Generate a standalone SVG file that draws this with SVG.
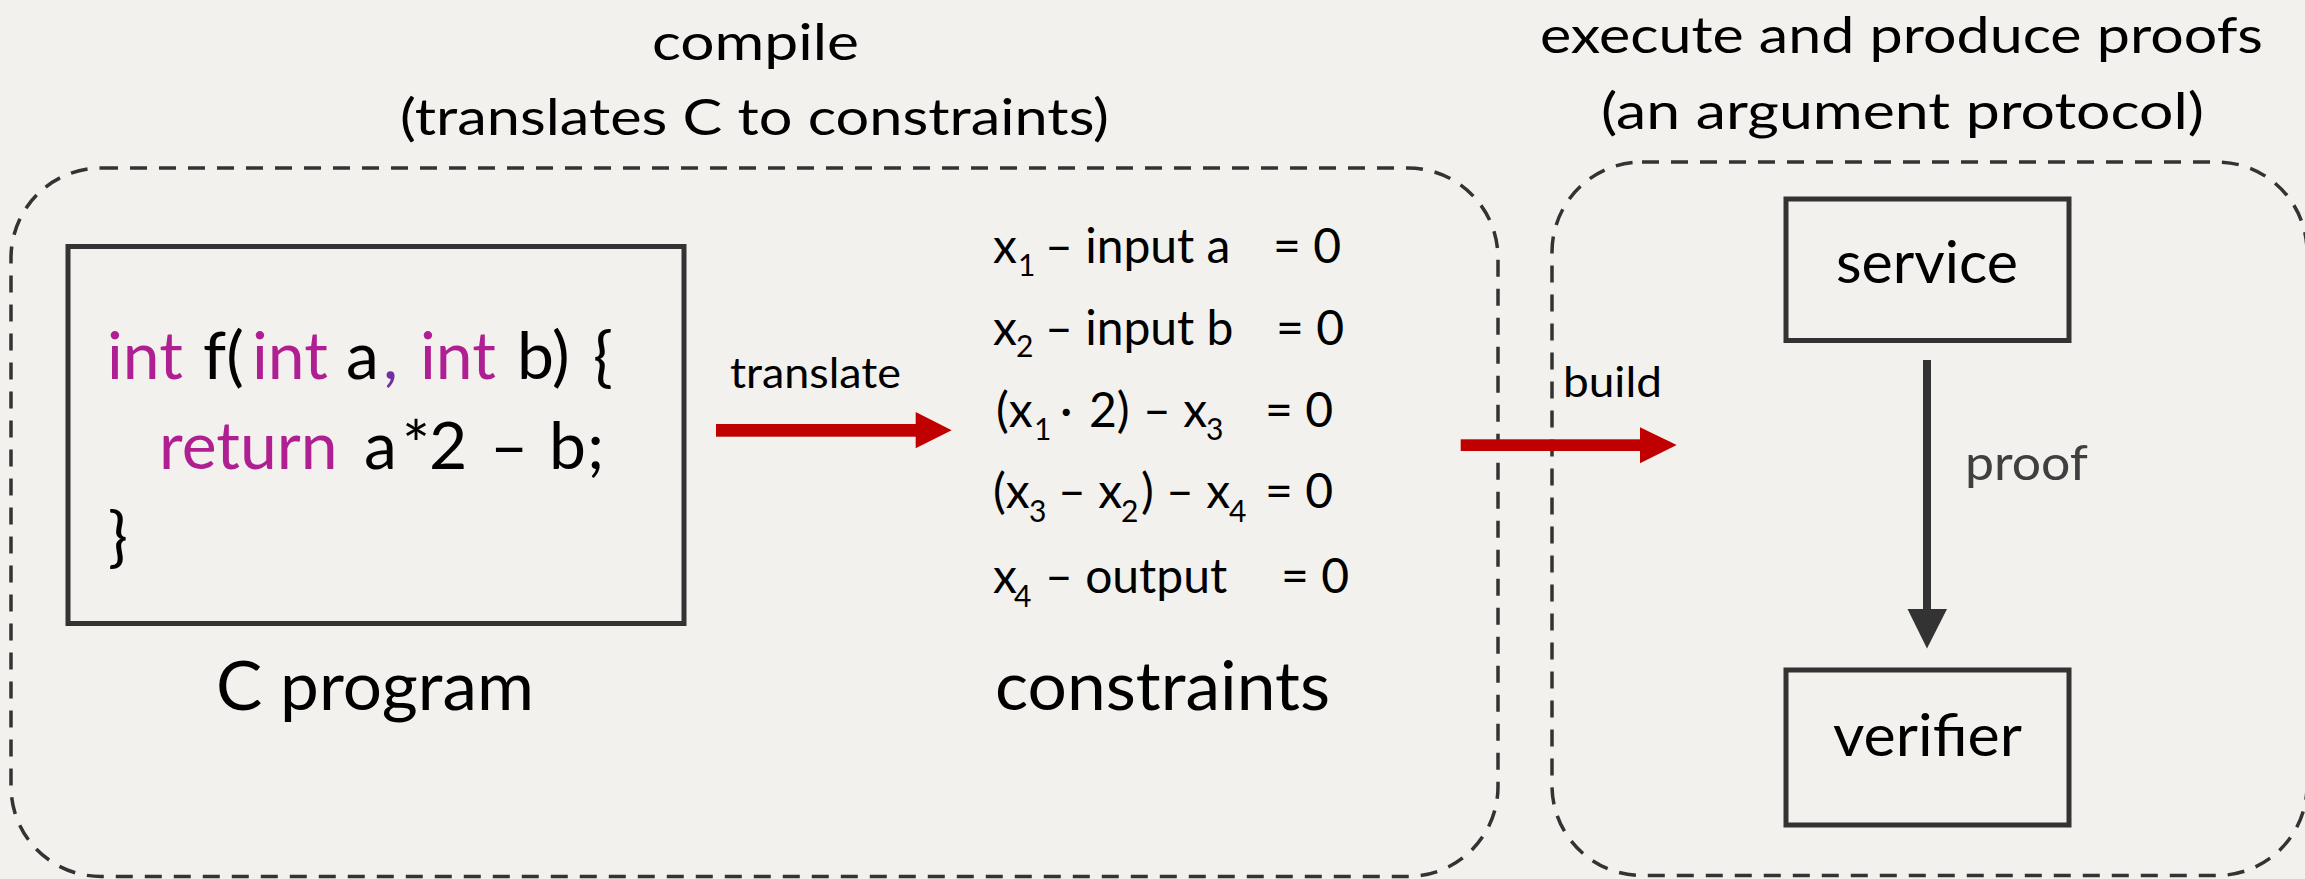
<svg xmlns="http://www.w3.org/2000/svg" width="2305" height="879" viewBox="0 0 2305 879">
<style>
text{font-family:Lato,"Open Sans","Liberation Sans",sans-serif;fill:#000}
.title{font-size:50px}
.big{font-size:67px}
.code{font-size:66px}
.kw{fill:#AF1F92}
.cm{fill:#7030A0}
.cons{font-size:48px}
.sub{font-size:30px}
.lbl{font-size:42px}
.nd{font-size:58px}
.dash{fill:none;stroke:#333;stroke-width:3.5;stroke-dasharray:17 12}
.box{fill:none;stroke:#333;stroke-width:5}
</style>
<rect width="2305" height="879" fill="#F2F1ED"/>

<g id="compile-group">
  <rect class="dash" x="11" y="168" width="1487" height="708.5" rx="90" ry="90"/>
  <text class="title" x="652" y="60" textLength="207" lengthAdjust="spacingAndGlyphs">compile</text>
  <text class="title" x="400" y="135" textLength="709" lengthAdjust="spacingAndGlyphs">(translates C to constraints)</text>
</g>

<g id="execute-group">
  <rect class="dash" x="1552" y="162" width="755" height="713.5" rx="90" ry="90"/>
  <text class="title" x="1540" y="53" textLength="723" lengthAdjust="spacingAndGlyphs">execute and produce proofs</text>
  <text class="title" x="1601" y="129" textLength="603" lengthAdjust="spacingAndGlyphs">(an argument protocol)</text>
</g>

<g id="c-program">
  <rect class="box" x="68" y="246.5" width="616" height="377"/>
  <text class="code" y="379.3"><tspan class="kw" x="107">int</tspan><tspan x="203">f(</tspan><tspan class="kw" x="252">int</tspan><tspan x="346">a</tspan><tspan class="cm" x="383">,</tspan><tspan class="kw" x="420">int</tspan><tspan x="517">b)</tspan><tspan x="593">{</tspan></text>
  <text class="code" y="469.3"><tspan class="kw" x="159">return</tspan><tspan x="364">a</tspan><tspan x="402">*</tspan><tspan x="429">2</tspan><tspan x="490">–</tspan><tspan x="549">b</tspan><tspan x="587">;</tspan></text>
  <text class="code" x="108" y="559">}</text>
  <text class="big" x="216" y="710" textLength="318" lengthAdjust="spacingAndGlyphs">C program</text>
</g>

<g id="constraints">
  <text class="cons" y="263.3"><tspan x="993">x</tspan><tspan class="sub" x="1018" y="276">1</tspan><tspan x="1045" y="263.3">– input a</tspan><tspan x="1273">= 0</tspan></text>
  <text class="cons" y="345"><tspan x="993">x</tspan><tspan class="sub" x="1016" y="357.3">2</tspan><tspan x="1045" y="345">– input b</tspan><tspan x="1276">= 0</tspan></text>
  <text class="cons" y="426.7"><tspan x="996">(x</tspan><tspan class="sub" x="1034" y="440">1</tspan><tspan x="1060" y="426.7">·</tspan><tspan x="1089">2)</tspan><tspan x="1143">– x</tspan><tspan class="sub" x="1206" y="440">3</tspan><tspan x="1265" y="426.7">= 0</tspan></text>
  <text class="cons" y="508.3"><tspan x="993">(x</tspan><tspan class="sub" x="1029" y="521.7">3</tspan><tspan x="1058" y="508.3">– x</tspan><tspan class="sub" x="1121" y="521.7">2</tspan><tspan x="1141" y="508.3">)</tspan><tspan x="1166">– x</tspan><tspan class="sub" x="1229" y="521.7">4</tspan><tspan x="1265" y="508.3">= 0</tspan></text>
  <text class="cons" y="593.3"><tspan x="993">x</tspan><tspan class="sub" x="1014" y="606.7">4</tspan><tspan x="1045" y="593.3">– output</tspan><tspan x="1281">= 0</tspan></text>
  <text class="big" x="995" y="710" textLength="335" lengthAdjust="spacingAndGlyphs">constraints</text>
</g>

<g id="service">
  <rect class="box" x="1786" y="199" width="283" height="141.5"/>
  <text class="nd" x="1836" y="283.4" textLength="182" lengthAdjust="spacingAndGlyphs">service</text>
</g>

<g id="verifier">
  <rect class="box" x="1786" y="670" width="283" height="155"/>
  <text class="nd" x="1833" y="755.8" textLength="189" lengthAdjust="spacingAndGlyphs">verifier</text>
</g>

<g id="connectors">
  <g id="translate-arrow">
    <rect x="716" y="424" width="201" height="12.7" fill="#C00000"/>
    <polygon points="915.7,412 951.7,430.3 915.7,448.3" fill="#C00000"/>
    <text class="lbl" x="730" y="388.3" textLength="171" lengthAdjust="spacingAndGlyphs">translate</text>
  </g>
  <g id="build-arrow">
    <rect x="1460.7" y="439.3" width="181" height="11.7" fill="#C00000"/>
    <polygon points="1640,427.3 1676.7,445 1640,463.3" fill="#C00000"/>
    <text class="lbl" x="1563" y="396.7" textLength="99" lengthAdjust="spacingAndGlyphs">build</text>
  </g>
  <g id="proof-arrow">
    <rect x="1923" y="360" width="8" height="252" fill="#333"/>
    <polygon points="1907.5,609 1947,609 1927,648.5" fill="#333"/>
    <text class="lbl" x="1965" y="480" style="font-size:48px;fill:#3F3F3F" textLength="123" lengthAdjust="spacingAndGlyphs">proof</text>
  </g>
</g>
</svg>
